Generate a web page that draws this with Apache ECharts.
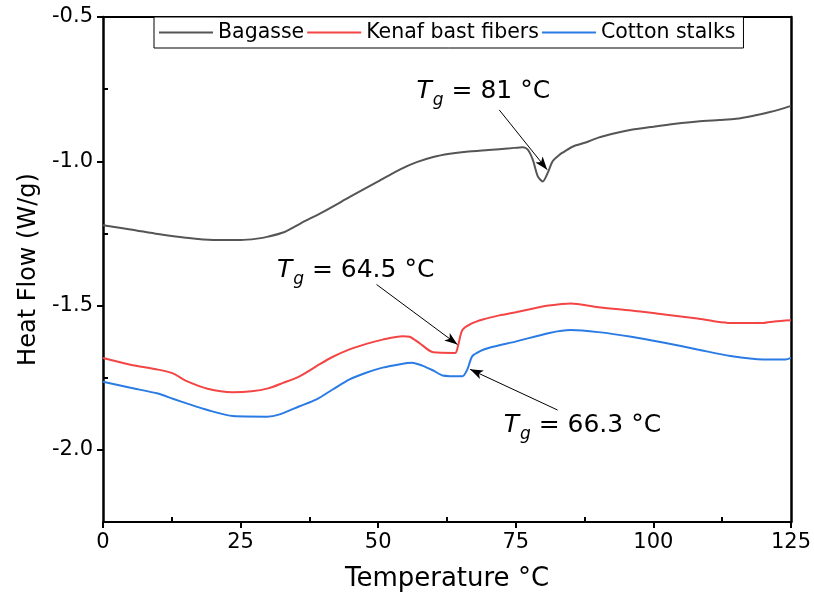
<!DOCTYPE html>
<html>
<head>
<meta charset="utf-8">
<script src="https://cdn.jsdelivr.net/npm/echarts@6/dist/echarts.min.js"></script>
<style>
  html, body { margin: 0; padding: 0; background: #fff; }
  #chart { width: 814px; height: 597px; }
</style>
</head>
<body>
<div id="chart"></div>
<script>
// DSC heat-flow curves, [temperature °C, heat flow W/g]
const bagasse = [
  [0,-1.222],[5,-1.236],[10,-1.252],[15,-1.265],[20,-1.273],[25,-1.273],[28,-1.268],
  [30,-1.261],[33,-1.245],[36,-1.214],[40,-1.175],[45,-1.122],[50,-1.07],[54,-1.028],
  [57,-1.003],[60,-0.985],[63,-0.974],[66,-0.967],[70,-0.961],[74,-0.955],[76.3,-0.951],
  [77.2,-0.96],[78.1,-0.995],[79.0,-1.052],[79.9,-1.07],[80.8,-1.04],[81.7,-1.0],
  [82.9,-0.978],[84.1,-0.963],[85.5,-0.948],[87.7,-0.935],[90,-0.918],[93,-0.903],
  [96,-0.891],[100,-0.88],[104,-0.87],[108,-0.862],[112,-0.857],[115,-0.853],
  [118,-0.843],[121,-0.83],[123,-0.82],[125,-0.808]
];
const kenaf = [
  [0,-1.682],[5,-1.705],[10,-1.722],[12.7,-1.735],[15,-1.76],[19,-1.788],[23.5,-1.8],
  [27,-1.797],[30,-1.787],[32.7,-1.768],[35.7,-1.745],[38.8,-1.71],[41.5,-1.68],
  [44.8,-1.652],[48,-1.632],[50.8,-1.618],[54.4,-1.606],[55.7,-1.608],[57.5,-1.63],
  [60,-1.662],[64,-1.664],[64.5,-1.64],[65.3,-1.585],[67,-1.562],[69,-1.548],
  [72,-1.534],[75,-1.523],[78,-1.511],[81,-1.5],[85,-1.493],[90,-1.506],[96,-1.517],
  [102,-1.531],[108,-1.545],[111,-1.554],[114,-1.56],[120,-1.56],[122,-1.555],[125,-1.551]
];
const cotton = [
  [0,-1.764],[5,-1.785],[10,-1.805],[12.7,-1.823],[15.2,-1.839],[19,-1.862],[23.6,-1.883],
  [29.8,-1.885],[32.1,-1.877],[35.7,-1.849],[38.8,-1.825],[41.8,-1.79],[44.8,-1.756],
  [47.8,-1.733],[50.8,-1.715],[54,-1.703],[56.2,-1.698],[58,-1.708],[60,-1.725],
  [61.7,-1.742],[65.3,-1.745],[66.2,-1.721],[67.1,-1.675],[68.5,-1.658],[70.2,-1.646],
  [75.1,-1.624],[81.1,-1.595],[85,-1.585],[90,-1.592],[96,-1.608],[102,-1.629],
  [108,-1.652],[114,-1.675],[120,-1.687],[124,-1.687],[125,-1.681]
];

const seriesNames = ['Bagasse', 'Kenaf bast fibers', 'Cotton stalks'];
const seriesColors = ['#555555', '#f44545', '#2a7be4'];

const xTicks = [0, 25, 50, 75, 100, 125];
const xMinorTicks = [12.5, 37.5, 62.5, 87.5, 112.5];
const yTicks = [-2.0, -1.5, -1.0, -0.5];
const yMinorTicks = [-1.75, -1.25, -0.75];

// glass-transition callouts: label text, label anchor, arrow tail, arrow tip
const tgValues = ['81', '64.5', '66.3'];
const tgLabelAt = [[69.1, -0.758], [45.9, -1.377], [87.1, -1.914]];
const tgArrowFrom = [[72.0, -0.822], [49.7, -1.427], [82.6, -1.862]];
const tgArrowTo = [[80.7, -1.029], [64.4, -1.635], [66.7, -1.721]];

const FONT = 'DejaVu Sans';

function tgMarks(i) {
  return {
    markLine: {
      silent: true,
      symbol: ['none', 'arrow'],
      symbolSize: [7, 13],
      label: { show: false },
      lineStyle: { color: '#000', width: 1, type: 'solid' },
      data: [[{ coord: tgArrowFrom[i] }, { coord: tgArrowTo[i] }]]
    },
    markPoint: {
      silent: true,
      symbol: 'circle',
      symbolSize: 0,
      data: [{ coord: tgLabelAt[i] }],
      label: {
        show: true,
        position: 'inside',
        formatter: '{t|T}{s|g}{n| = ' + tgValues[i] + ' °C}',
        rich: {
          t: { fontFamily: FONT, fontSize: 25, fontStyle: 'italic', color: '#000' },
          s: { fontFamily: FONT, fontSize: 17, fontStyle: 'italic', color: '#000', padding: [19, 0, 0, 1] },
          n: { fontFamily: FONT, fontSize: 25, color: '#000' }
        }
      }
    }
  };
}

const datasets = [bagasse, kenaf, cotton];
const series = datasets.map((d, i) => Object.assign({
  name: seriesNames[i],
  type: 'line',
  xAxisIndex: 0,
  yAxisIndex: 0,
  data: d,
  symbol: 'none',
  smooth: 0.25,
  lineStyle: { color: seriesColors[i], width: 2 },
  itemStyle: { color: seriesColors[i] },
  z: 3 + i
}, tgMarks(i)));

const chart = echarts.init(document.getElementById('chart'), null, { renderer: 'canvas' });
chart.setOption({
  animation: false,
  backgroundColor: '#fff',
  grid: { left: 103, right: 22, top: 17, bottom: 75 },
  legend: {
    data: seriesNames,
    left: 154,
    top: 17,
    orient: 'horizontal',
    icon: 'rect',
    itemWidth: 54,
    itemHeight: 2,
    itemGap: 3,
    padding: [5, 8, 5, 5],
    borderColor: '#000',
    borderWidth: 1,
    backgroundColor: '#fff',
    textStyle: { fontFamily: FONT, fontSize: 20.5, color: '#000' }
  },
  xAxis: [
    {
      type: 'value', min: 0, max: 125, interval: 25, position: 'bottom',
      name: 'Temperature °C', nameLocation: 'middle', nameGap: 44,
      nameTextStyle: { fontFamily: FONT, fontSize: 26, color: '#000' },
      axisLine: { show: true, lineStyle: { color: '#000', width: 2 } },
      axisTick: { show: true, inside: false, length: 6, customValues: xTicks, lineStyle: { color: '#000', width: 2 } },
      axisLabel: { show: true, margin: 10, customValues: xTicks, fontFamily: FONT, fontSize: 21, color: '#000' },
      splitLine: { show: false }
    },
    {
      type: 'value', min: 0, max: 125, position: 'bottom',
      axisLine: { show: false },
      axisTick: { show: true, inside: true, length: 5, customValues: xMinorTicks, lineStyle: { color: '#000', width: 2 } },
      axisLabel: { show: false },
      splitLine: { show: false }
    },
    {
      type: 'value', min: 0, max: 125, position: 'top',
      axisLine: { show: true, onZero: false, lineStyle: { color: '#000', width: 2 } },
      axisTick: { show: false },
      axisLabel: { show: false },
      splitLine: { show: false }
    }
  ],
  yAxis: [
    {
      type: 'value', min: -2.25, max: -0.5, interval: 0.25, position: 'left',
      name: 'Heat Flow (W/g)', nameLocation: 'middle', nameGap: 59,
      nameTextStyle: { fontFamily: FONT, fontSize: 24, color: '#000' },
      axisLine: { show: true, onZero: false, lineStyle: { color: '#000', width: 2.5 } },
      axisTick: { show: true, inside: false, length: 6, customValues: yTicks, lineStyle: { color: '#000', width: 2 } },
      axisLabel: {
        show: true, margin: 10, customValues: yTicks,
        formatter: v => v.toFixed(1),
        fontFamily: FONT, fontSize: 21, color: '#000'
      },
      splitLine: { show: false }
    },
    {
      type: 'value', min: -2.25, max: -0.5, position: 'left',
      axisLine: { show: false },
      axisTick: { show: true, inside: true, length: 5, customValues: yMinorTicks, lineStyle: { color: '#000', width: 2 } },
      axisLabel: { show: false },
      splitLine: { show: false }
    },
    {
      type: 'value', min: -2.25, max: -0.5, position: 'right',
      axisLine: { show: true, onZero: false, lineStyle: { color: '#000', width: 2.5 } },
      axisTick: { show: false },
      axisLabel: { show: false },
      splitLine: { show: false }
    }
  ],
  series: series
});
</script>
</body>
</html>
